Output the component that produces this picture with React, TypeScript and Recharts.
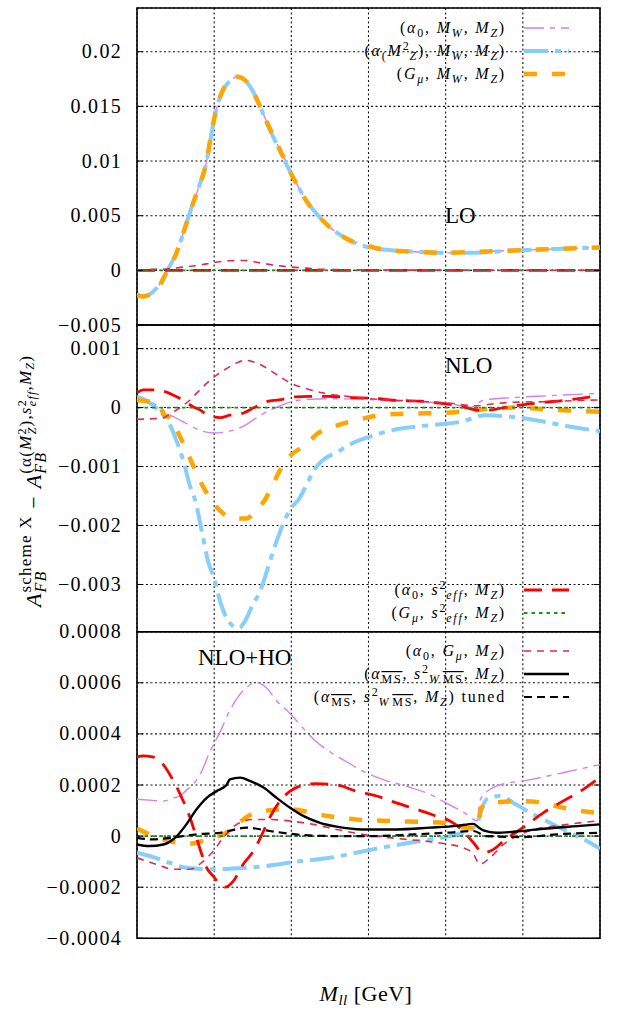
import React from 'react';
import { LineChart, Line, XAxis, YAxis, CartesianGrid, ReferenceArea } from 'recharts';

type Pt = [number, number];

const SERIF = "Liberation Serif, DejaVu Serif, Times New Roman, serif";
const W = 619;
const H = 1016;
const PLOT_L = 137;
const PLOT_R = 600;
const Y_AXIS_W = 60;

// ---------- axes ----------
const X_MIN = 50;
const X_MAX = 200;
const X_TICKS = [50, 75, 100, 125, 150, 175, 200];
const X_LABELS = ['50', '', '100', '', '150', '', '200'];

const LO_DOMAIN: [number, number] = [-0.005, 0.024];
const LO_Y_TICKS = [-0.005, 0, 0.005, 0.01, 0.015, 0.02];
const LO_Y_LABELS = ['−0.005', '0', '0.005', '0.01', '0.015', '0.02'];

const NLO_DOMAIN: [number, number] = [-0.0038, 0.0014];
const NLO_Y_TICKS = [-0.003, -0.002, -0.001, 0, 0.001];
const NLO_Y_LABELS = ['−0.003', '−0.002', '−0.001', '0', '0.001'];

const HO_DOMAIN: [number, number] = [-0.0004, 0.0008];
const HO_Y_TICKS = [-0.0004, -0.0002, 0, 0.0002, 0.0004, 0.0006, 0.0008];
const HO_Y_LABELS = ['−0.0004', '−0.0002', '0', '0.0002', '0.0004', '0.0006', '0.0008'];

// ---------- LO panel ----------
const LO_A0_MW: Pt[] = [[50,-0.0021],[52,-0.0023],[55,-0.002],[57.5,-0.0012],[60,0.0001],[62.5,0.0014],[65,0.0034],[67.5,0.0056],[70,0.0076],[72.5,0.0099],[74,0.0124],[75.5,0.0145],[77.5,0.0163],[80,0.0173],[82.5,0.0177],[85,0.0174],[87.5,0.0164],[90,0.0149],[92.5,0.0133],[95,0.0118],[97.5,0.0104],[100,0.0089],[102.5,0.0075],[105,0.0063],[107.5,0.0054],[110,0.0046],[115,0.0034],[120,0.0027],[125,0.0022],[130,0.0019],[140,0.0017],[150,0.0016],[160,0.0017],[170,0.0018],[180,0.0019],[190,0.002],[200,0.0021]];
const LO_AMZ_MW: Pt[] = [[50,-0.0022],[52,-0.0024],[55,-0.002],[57.5,-0.0012],[60,0.0001],[62.5,0.0014],[65,0.0034],[67.5,0.0056],[70,0.0076],[72.5,0.0099],[74,0.0123],[75.5,0.0145],[77.5,0.0163],[80,0.0173],[82.5,0.0177],[85,0.0174],[87.5,0.0164],[90,0.0149],[92.5,0.0132],[95,0.0117],[97.5,0.0102],[100,0.0088],[102.5,0.0075],[105,0.0063],[107.5,0.0054],[110,0.0046],[115,0.0034],[120,0.0026],[125,0.0021],[130,0.0019],[140,0.0017],[150,0.0016],[160,0.0016],[170,0.0018],[180,0.0019],[190,0.002],[200,0.0021]];
const LO_GMU_MW: Pt[] = [[50,-0.0023],[52,-0.0024],[55,-0.002],[57.5,-0.0013],[60,0.0001],[62.5,0.0014],[65,0.0034],[67.5,0.0056],[70,0.0076],[72.5,0.0099],[74,0.0124],[75.5,0.0145],[77.5,0.0163],[80,0.0173],[82.5,0.0177],[85,0.0174],[87.5,0.0164],[90,0.0149],[92.5,0.0133],[95,0.0118],[97.5,0.0103],[100,0.0088],[102.5,0.0075],[105,0.0063],[107.5,0.0054],[110,0.0046],[115,0.0034],[120,0.0026],[125,0.0022],[130,0.0019],[140,0.0017],[150,0.0016],[160,0.0017],[170,0.0018],[180,0.0019],[190,0.002],[200,0.0021]];
const LO_A0_SEFF: Pt[] = [[50,0],[100,0],[150,0],[200,0]];
const LO_GMU_SEFF: Pt[] = [[50,0],[100,0],[150,0],[200,0]];
const LO_A0_GMU: Pt[] = [[50,0],[55,0.0001],[60,0.00015],[65,0.0003],[70,0.00046],[75,0.00072],[80,0.00088],[85,0.0009],[90,0.00068],[95,0.00045],[100,0.0003],[105,0.0002],[110,0.0001],[120,0.00005],[130,0.00003],[150,0.00002],[175,0.00001],[200,0.00001]];

// ---------- NLO panel ----------
const NLO_A0_MW: Pt[] = [[50,0.00012],[55,0.00008],[60,-0.0001],[62,-0.00016],[66,-0.00027],[70,-0.00038],[75,-0.00043],[80,-0.0004],[85,-0.0003],[90,-0.00013],[95,0.0],[100,0.0001],[106,0.00014],[112,0.00015],[123,0.00014],[134,0.00011],[145,0.00009],[151,0.00007],[155,0.00003],[158,0.0],[162,0.00012],[172,0.00017],[183,0.0002],[200,0.00024]];
const NLO_AMZ_MW: Pt[] = [[50,0.00018],[53,0.00012],[56,0.0],[59,-0.00016],[61,-0.00033],[63,-0.00059],[65,-0.0009],[67,-0.0013],[69,-0.0016],[71,-0.0021],[73,-0.0026],[75,-0.0029],[77,-0.0033],[79,-0.00357],[81,-0.0037],[83,-0.00374],[85,-0.00362],[87.5,-0.00334],[90,-0.0031],[92.5,-0.0027],[95,-0.0023],[97.5,-0.00195],[100,-0.0017],[102.5,-0.00155],[105,-0.0013],[107.5,-0.00105],[110,-0.0009],[115,-0.00075],[120,-0.0006],[125,-0.0005],[135,-0.00036],[145,-0.0003],[155,-0.00024],[163,-0.00013],[172,-0.00016],[182,-0.00024],[191,-0.00033],[200,-0.0004]];
const NLO_GMU_MW: Pt[] = [[50,0.00013],[54,0.0001],[57,0.00006],[58.5,-0.0001],[61,-0.0002],[64,-0.0005],[68,-0.00096],[71,-0.0013],[74.5,-0.0016],[78,-0.0018],[82,-0.00188],[85.5,-0.00188],[89,-0.0017],[91,-0.0016],[94,-0.0013],[97,-0.001],[100,-0.0008],[104.5,-0.00064],[108.5,-0.00044],[115,-0.0003],[122,-0.0002],[133,-0.00011],[140,-0.0001],[150,-0.00009],[158,-0.00005],[165,-0.00002],[172,0.0],[180,-0.00002],[190,-0.00005],[200,-0.00007]];
const NLO_A0_SEFF: Pt[] = [[50,0.00025],[52,0.0003],[56,0.0003],[58.5,0.00028],[63,0.00018],[68,0.00002],[70,-0.00003],[74,-0.00015],[77,-0.00017],[80,-0.00013],[84,-0.0001],[88,0.0],[92,0.0001],[96,0.00013],[101,0.00018],[106,0.00019],[112,0.00019],[120,0.00017],[128,0.00015],[135,0.00012],[142,0.00011],[147,0.00008],[153,0.00004],[158,-0.00002],[162,-0.00005],[166,-0.00003],[170,0.00001],[180,0.00008],[190,0.00013],[200,0.00021]];
const NLO_GMU_SEFF: Pt[] = [[50,0],[100,0],[150,0],[200,0]];
const NLO_A0_GMU: Pt[] = [[50,-0.0002],[55,-0.00019],[58,-0.00018],[61,-0.0001],[64,0.0],[67,0.00012],[70,0.00028],[73,0.00043],[76,0.00056],[79,0.00066],[82,0.00075],[85,0.0008],[88,0.00077],[91,0.0007],[94,0.0006],[97,0.0005],[100,0.00041],[105,0.00032],[110,0.00025],[118,0.00019],[128,0.00014],[140,0.00011],[150,0.00008],[160,0.00003],[165,0.00006],[172,0.00009],[183,0.0001],[193,0.00012],[200,0.00013]];

// ---------- NLO+HO panel ----------
const HO_A0_MW: Pt[] = [[50,0.000144],[55,0.00014],[58.5,0.000137],[62,0.00015],[64,0.000157],[66,0.00018],[68,0.0002],[71,0.000255],[73.6,0.00033],[77,0.00041],[80,0.00049],[84.4,0.00057],[88.8,0.0006],[92,0.00058],[95.2,0.00053],[99.6,0.00048],[104,0.00042],[108,0.00037],[112.5,0.00033],[118,0.00029],[123,0.000255],[130,0.00022],[137,0.000196],[145,0.000163],[151,0.000124],[156,0.000092],[160.3,0.00006],[161,0.000135],[163,0.00017],[166.5,0.000196],[177,0.00022],[188,0.000248],[200,0.00028]];
const HO_AMZ_MW: Pt[] = [[50,-0.000065],[56,-0.000085],[60.7,-0.000105],[66,-0.000124],[75,-0.00013],[80,-0.000128],[91,-0.000118],[101.7,-0.0001],[112.5,-0.000085],[123,-0.00006],[134,-0.000035],[145,-0.000013],[151.4,0.0],[159,0.000033],[160.5,0.00006],[161.5,0.0001],[163.3,0.000144],[167.6,0.000157],[172,0.00013],[177.3,0.000092],[183.8,0.000052],[190.3,0.000013],[196.8,-0.000026],[200,-0.00005]];
const HO_GMU_MW: Pt[] = [[50,0.00003],[54,0.000007],[58.5,-0.000013],[63,-0.000026],[67,-0.00003],[71,-0.00002],[75,-0.000005],[79,0.000013],[81,0.00003],[84.4,0.000065],[88,0.00009],[91,0.000098],[99.6,0.000105],[110,0.000082],[121,0.000065],[130,0.00006],[149,0.000052],[155.7,0.000035],[160.3,0.00003],[161.5,0.00011],[165,0.00013],[175,0.000137],[180,0.000133],[187,0.000114],[194,0.000098],[200,0.00009]];
const HO_A0_SEFF: Pt[] = [[50,0.00031],[52,0.000314],[55,0.00031],[58.5,0.00028],[61.8,0.000216],[65,0.000137],[67.2,0.000072],[69.3,-0.000007],[71,-0.000072],[72.6,-0.000124],[74.7,-0.000157],[77,-0.00019],[78.5,-0.0002],[81.2,-0.000176],[84.4,-0.00011],[87.7,-0.000059],[91,0.00002],[93,0.000072],[96.3,0.000137],[99.6,0.000176],[104,0.0002],[108,0.000205],[114.7,0.0002],[121,0.000176],[127.6,0.000157],[134,0.00013],[140.6,0.000105],[147,0.000078],[151.4,0.000059],[155.7,0.00002],[159,-0.000026],[162.2,-0.000065],[165.5,-0.000052],[168.7,-0.00002],[175,0.000033],[181.7,0.000092],[188,0.000137],[194.6,0.000183],[200,0.00023]];
const HO_GMU_SEFF: Pt[] = [[50,0],[100,0],[150,0],[200,0]];
const HO_A0_GMU: Pt[] = [[50,-0.000085],[56.4,-0.000111],[61.8,-0.00013],[67.2,-0.00013],[71.5,-0.000098],[74.7,-0.000059],[77.9,-0.000007],[82.3,0.000046],[87.7,0.000065],[93,0.000065],[99.6,0.000059],[107,0.000046],[114.7,0.000026],[123,0.000007],[134,-0.000009],[145,-0.000022],[151.4,-0.000033],[155.7,-0.000046],[159,-0.00007],[161,-0.00011],[164.3,-0.000085],[168.7,-0.000033],[177,0.00002],[186,0.00004],[200,0.00006]];
const HO_MS: Pt[] = [[50,-0.000033],[54,-0.000039],[58.5,-0.000033],[62.9,0.0],[66,0.000046],[69.3,0.000105],[72.6,0.00015],[75.8,0.000176],[79,0.0002],[80.1,0.000222],[83.4,0.000229],[86.6,0.000216],[91,0.00019],[95.2,0.00015],[99.6,0.000111],[104,0.000078],[109.3,0.000052],[114.7,0.000037],[123,0.000026],[134,0.000026],[145,0.000033],[153.6,0.00004],[159,0.000048],[160.6,0.000035],[162.2,0.000022],[166.5,0.000013],[172,0.000017],[182.7,0.00003],[193.5,0.00004],[200,0.000046]];
const HO_MS_TUNED: Pt[] = [[50,-0.000007],[55,-0.000013],[60.7,-0.000007],[69.3,0.000007],[77,0.000013],[85.5,0.000033],[93,0.00002],[104,0.000004],[115,0.0],[126,0.0],[140,0.000007],[150,0.000013],[159,0.00002],[163,0.0],[175,-0.000004],[186,0.000007],[200,0.000013]];

// ---------- styles ----------
const STYLE: Record<string, { stroke: string; width: number; dash?: string }> = {
  a0mw: { stroke: '#d77ef0', width: 1.4, dash: '20 6 5 6' },
  amz: { stroke: '#87cefa', width: 4, dash: '24 7 6 7' },
  gmu: { stroke: '#ffa500', width: 4.5, dash: '13 15' },
  a0seff: { stroke: '#ff0000', width: 2.8, dash: '18 10' },
  gseff: { stroke: '#1f8f1f', width: 1.8, dash: '3.5 4' },
  a0g: { stroke: '#dc2b55', width: 1.6, dash: '7 6' },
  ms: { stroke: '#000000', width: 2.4 },
  mst: { stroke: '#000000', width: 2.2, dash: '8 5' },
};

type Series = { key: string; data: Pt[]; style: string };

const LO_SERIES: Series[] = [
  { key: 'a0mw', data: LO_A0_MW, style: 'a0mw' },
  { key: 'amz', data: LO_AMZ_MW, style: 'amz' },
  { key: 'gmu', data: LO_GMU_MW, style: 'gmu' },
  { key: 'a0seff', data: LO_A0_SEFF, style: 'a0seff' },
  { key: 'gseff', data: LO_GMU_SEFF, style: 'gseff' },
  { key: 'a0g', data: LO_A0_GMU, style: 'a0g' },
];
const NLO_SERIES: Series[] = [
  { key: 'a0mw', data: NLO_A0_MW, style: 'a0mw' },
  { key: 'amz', data: NLO_AMZ_MW, style: 'amz' },
  { key: 'gmu', data: NLO_GMU_MW, style: 'gmu' },
  { key: 'a0seff', data: NLO_A0_SEFF, style: 'a0seff' },
  { key: 'gseff', data: NLO_GMU_SEFF, style: 'gseff' },
  { key: 'a0g', data: NLO_A0_GMU, style: 'a0g' },
];
const HO_SERIES: Series[] = [
  { key: 'a0mw', data: HO_A0_MW, style: 'a0mw' },
  { key: 'amz', data: HO_AMZ_MW, style: 'amz' },
  { key: 'gmu', data: HO_GMU_MW, style: 'gmu' },
  { key: 'a0seff', data: HO_A0_SEFF, style: 'a0seff' },
  { key: 'gseff', data: HO_GMU_SEFF, style: 'gseff' },
  { key: 'a0g', data: HO_A0_GMU, style: 'a0g' },
  { key: 'ms', data: HO_MS, style: 'ms' },
  { key: 'mst', data: HO_MS_TUNED, style: 'mst' },
];

const GRID_DASH = '2 2.5';

function YTick(props: any) {
  const { x, y, payload, ticks, labels } = props;
  const i = ticks.indexOf(payload.value);
  const label = i >= 0 ? labels[i] : '';
  return (
    <g>
      <line x1={PLOT_L} x2={PLOT_L + 6} y1={y} y2={y} stroke="#000" strokeWidth={1} />
      <line x1={PLOT_R - 6} x2={PLOT_R} y1={y} y2={y} stroke="#000" strokeWidth={1} />
      <text x={x} y={y + 6.5} textAnchor="end" fill="#000" fontFamily={SERIF} fontSize={20} letterSpacing={1.3}>{label}</text>
    </g>
  );
}

function XTick(props: any) {
  const { x, y, payload, top, showX } = props;
  const i = X_TICKS.indexOf(payload.value);
  const label = i >= 0 ? X_LABELS[i] : '';
  return (
    <g>
      <line x1={x} x2={x} y1={y} y2={y - 6} stroke="#000" strokeWidth={1} />
      <line x1={x} x2={x} y1={top} y2={top + 6} stroke="#000" strokeWidth={1} />
      {showX && label ? (
        <text x={x} y={y + 32} textAnchor="middle" fill="#000" fontFamily={SERIF} fontSize={20} letterSpacing={1.3}>{label}</text>
      ) : null}
    </g>
  );
}

function Panel(props: {
  top: number;
  bottom: number;
  domain: [number, number];
  yTicks: number[];
  yLabels: string[];
  series: Series[];
  showX: boolean;
}) {
  const { top, bottom, domain, yTicks, yLabels, series, showX } = props;
  return (
    <div style={{ position: 'absolute', left: 0, top: 0 }}>
      <LineChart
        width={W}
        height={H}
        margin={{ top, bottom: H - bottom, left: PLOT_L - Y_AXIS_W, right: W - PLOT_R }}
      >
        <CartesianGrid stroke="#111" strokeDasharray={GRID_DASH} strokeWidth={1.1} />
        <XAxis
          type="number"
          dataKey="x"
          domain={[X_MIN, X_MAX]}
          ticks={X_TICKS}
          interval={0}
          height={0}
          axisLine={false}
          tickLine={false}
          tickSize={0}
          tickMargin={0}
          allowDataOverflow
          tick={(p: any) => <XTick {...p} top={top} showX={showX} />}
        />
        <YAxis
          type="number"
          domain={domain}
          ticks={yTicks}
          interval={0}
          width={Y_AXIS_W}
          axisLine={false}
          tickLine={false}
          tickSize={0}
          tickMargin={15}
          allowDataOverflow
          tick={(p: any) => <YTick {...p} ticks={yTicks} labels={yLabels} />}
        />
        {series.map((s) => {
          const st = STYLE[s.style];
          return (
            <Line
              key={s.key}
              data={s.data.map(([x, y]) => ({ x, y }))}
              dataKey="y"
              type="monotone"
              stroke={st.stroke}
              strokeWidth={st.width}
              strokeDasharray={st.dash}
              dot={false}
              activeDot={false}
              isAnimationActive={false}
            />
          );
        })}
        <ReferenceArea
          x1={X_MIN}
          x2={X_MAX}
          y1={domain[0]}
          y2={domain[1]}
          fill="none"
          fillOpacity={0}
          stroke="#000"
          strokeWidth={1.6}
          ifOverflow="visible"
        />
      </LineChart>
    </div>
  );
}

const LEG_FS = 16;
const LEG_SUB = 12;
const LEG_X = 506;
const SAMPLE_X1 = 524;
const SAMPLE_X2 = 569;

function Sample({ y, style }: { y: number; style: string }) {
  const st = STYLE[style];
  return (
    <line x1={SAMPLE_X1} x2={SAMPLE_X2} y1={y} y2={y} stroke={st.stroke} strokeWidth={st.width} strokeDasharray={st.dash} />
  );
}

function Overlay() {
  const it = { fontStyle: 'italic' as const };
  const leg = { textAnchor: 'end' as const, fontFamily: SERIF, fontSize: LEG_FS, letterSpacing: 1.8 };
  return (
    <svg width={W} height={H} style={{ position: 'absolute', left: 0, top: 0, pointerEvents: 'none' }}>
      {/* LO legend */}
      <text x={LEG_X} y={33} {...leg}>
        (<tspan {...it}>α</tspan><tspan fontSize={LEG_SUB} dy={4}>0</tspan><tspan dy={-4}>, </tspan>
        <tspan {...it}>M</tspan><tspan {...it} fontSize={LEG_SUB} dy={4}>W</tspan><tspan dy={-4}>, </tspan>
        <tspan {...it}>M</tspan><tspan {...it} fontSize={LEG_SUB} dy={4}>Z</tspan><tspan dy={-4}>)</tspan>
      </text>
      <Sample y={28} style="a0mw" />
      <text x={LEG_X} y={56} {...leg}>
        (<tspan {...it}>α</tspan><tspan fontSize={LEG_SUB} dy={4}>(</tspan><tspan {...it} dy={-4}>M</tspan>
        <tspan fontSize={LEG_SUB} dy={-6}>2</tspan><tspan {...it} fontSize={LEG_SUB} dx={-1} dy={10}>Z</tspan>
        <tspan dy={-4}>), </tspan>
        <tspan {...it}>M</tspan><tspan {...it} fontSize={LEG_SUB} dy={4}>W</tspan><tspan dy={-4}>, </tspan>
        <tspan {...it}>M</tspan><tspan {...it} fontSize={LEG_SUB} dy={4}>Z</tspan><tspan dy={-4}>)</tspan>
      </text>
      <Sample y={51} style="amz" />
      <text x={LEG_X} y={79} {...leg}>
        (<tspan {...it}>G</tspan><tspan {...it} fontSize={LEG_SUB} dy={4}>μ</tspan><tspan dy={-4}>, </tspan>
        <tspan {...it}>M</tspan><tspan {...it} fontSize={LEG_SUB} dy={4}>W</tspan><tspan dy={-4}>, </tspan>
        <tspan {...it}>M</tspan><tspan {...it} fontSize={LEG_SUB} dy={4}>Z</tspan><tspan dy={-4}>)</tspan>
      </text>
      <Sample y={74} style="gmu" />

      {/* NLO legend */}
      <text x={LEG_X} y={595} {...leg}>
        (<tspan {...it}>α</tspan><tspan fontSize={LEG_SUB} dy={4}>0</tspan><tspan dy={-4}>, </tspan>
        <tspan {...it}>s</tspan><tspan fontSize={LEG_SUB} dy={-6}>2</tspan><tspan {...it} fontSize={LEG_SUB} dx={-1} dy={10}>eff</tspan>
        <tspan dy={-4}>, </tspan>
        <tspan {...it}>M</tspan><tspan {...it} fontSize={LEG_SUB} dy={4}>Z</tspan><tspan dy={-4}>)</tspan>
      </text>
      <Sample y={590} style="a0seff" />
      <text x={LEG_X} y={618} {...leg}>
        (<tspan {...it}>G</tspan><tspan {...it} fontSize={LEG_SUB} dy={4}>μ</tspan><tspan dy={-4}>, </tspan>
        <tspan {...it}>s</tspan><tspan fontSize={LEG_SUB} dy={-6}>2</tspan><tspan {...it} fontSize={LEG_SUB} dx={-1} dy={10}>eff</tspan>
        <tspan dy={-4}>, </tspan>
        <tspan {...it}>M</tspan><tspan {...it} fontSize={LEG_SUB} dy={4}>Z</tspan><tspan dy={-4}>)</tspan>
      </text>
      <Sample y={613} style="gseff" />

      {/* NLO+HO legend */}
      <text x={LEG_X} y={656} {...leg}>
        (<tspan {...it}>α</tspan><tspan fontSize={LEG_SUB} dy={4}>0</tspan><tspan dy={-4}>, </tspan>
        <tspan {...it}>G</tspan><tspan {...it} fontSize={LEG_SUB} dy={4}>μ</tspan><tspan dy={-4}>, </tspan>
        <tspan {...it}>M</tspan><tspan {...it} fontSize={LEG_SUB} dy={4}>Z</tspan><tspan dy={-4}>)</tspan>
      </text>
      <Sample y={651} style="a0g" />
      <text x={LEG_X} y={679} {...leg}>
        (<tspan {...it}>α</tspan><tspan fontSize={LEG_SUB} dy={4} textDecoration="overline">MS</tspan>
        <tspan dy={-4}>, </tspan>
        <tspan {...it}>s</tspan><tspan fontSize={LEG_SUB} dy={-6}>2</tspan><tspan {...it} fontSize={LEG_SUB} dx={-1} dy={10}>W</tspan>
        <tspan fontSize={LEG_SUB} dx={2} textDecoration="overline">MS</tspan>
        <tspan dy={-4}>, </tspan>
        <tspan {...it}>M</tspan><tspan {...it} fontSize={LEG_SUB} dy={4}>Z</tspan><tspan dy={-4}>)</tspan>
      </text>
      <Sample y={674} style="ms" />
      <text x={LEG_X} y={702} {...leg}>
        (<tspan {...it}>α</tspan><tspan fontSize={LEG_SUB} dy={4} textDecoration="overline">MS</tspan>
        <tspan dy={-4}>, </tspan>
        <tspan {...it}>s</tspan><tspan fontSize={LEG_SUB} dy={-6}>2</tspan><tspan {...it} fontSize={LEG_SUB} dx={-1} dy={10}>W</tspan>
        <tspan fontSize={LEG_SUB} dx={2} textDecoration="overline">MS</tspan>
        <tspan dy={-4}>, </tspan>
        <tspan {...it}>M</tspan><tspan {...it} fontSize={LEG_SUB} dy={4}>Z</tspan><tspan dy={-4}>) tuned</tspan>
      </text>
      <Sample y={697} style="mst" />

      {/* panel labels */}
      <text x={445} y={223} fontFamily={SERIF} fontSize={23}>LO</text>
      <text x={445} y={373} fontFamily={SERIF} fontSize={23}>NLO</text>
      <text x={198} y={665} fontFamily={SERIF} fontSize={23}>NLO+HO</text>

      {/* x-axis title */}
      <text x={366} y={1001} textAnchor="middle" fontFamily={SERIF} fontSize={22} letterSpacing={0.5}>
        <tspan {...it}>M</tspan><tspan {...it} fontSize={15} dy={4}>ll</tspan><tspan dy={-4}> [GeV]</tspan>
      </text>

      {/* y-axis title */}
      <text
        x={41}
        y={481}
        transform="rotate(-90 41 481)"
        textAnchor="middle"
        fontFamily={SERIF}
        fontSize={22}
        letterSpacing={1.2}
      >
        <tspan {...it}>A</tspan>
        <tspan {...it} fontSize={16} dy={5}>FB</tspan>
        <tspan fontSize={17} dx={-22} dy={-15}>scheme X</tspan>
        <tspan dy={10}> − </tspan>
        <tspan {...it}>A</tspan>
        <tspan {...it} fontSize={16} dy={5}>FB</tspan>
        <tspan fontSize={17} dx={-22} dy={-15}>(α(</tspan>
        <tspan {...it} fontSize={17}>M</tspan>
        <tspan fontSize={12} dy={-5}>2</tspan>
        <tspan {...it} fontSize={12} dx={-7} dy={10}>Z</tspan>
        <tspan fontSize={17} dy={-5}>),</tspan>
        <tspan {...it} fontSize={17}>s</tspan>
        <tspan fontSize={12} dy={-5}>2</tspan>
        <tspan {...it} fontSize={12} dx={-7} dy={10}>eff</tspan>
        <tspan fontSize={17} dy={-5}>,</tspan>
        <tspan {...it} fontSize={17}>M</tspan>
        <tspan {...it} fontSize={12} dy={3}>Z</tspan>
        <tspan fontSize={17} dy={-3}>)</tspan>
      </text>
    </svg>
  );
}

export default function App() {
  return (
    <div style={{ position: 'absolute', left: 0, top: 0, width: W, height: H, background: '#fff', overflow: 'hidden' }}>
      <Panel top={8} bottom={325} domain={LO_DOMAIN} yTicks={LO_Y_TICKS} yLabels={LO_Y_LABELS} series={LO_SERIES} showX={false} />
      <Panel top={325} bottom={631.7} domain={NLO_DOMAIN} yTicks={NLO_Y_TICKS} yLabels={NLO_Y_LABELS} series={NLO_SERIES} showX={false} />
      <Panel top={631.7} bottom={938.3} domain={HO_DOMAIN} yTicks={HO_Y_TICKS} yLabels={HO_Y_LABELS} series={HO_SERIES} showX={true} />
      <Overlay />
    </div>
  );
}
